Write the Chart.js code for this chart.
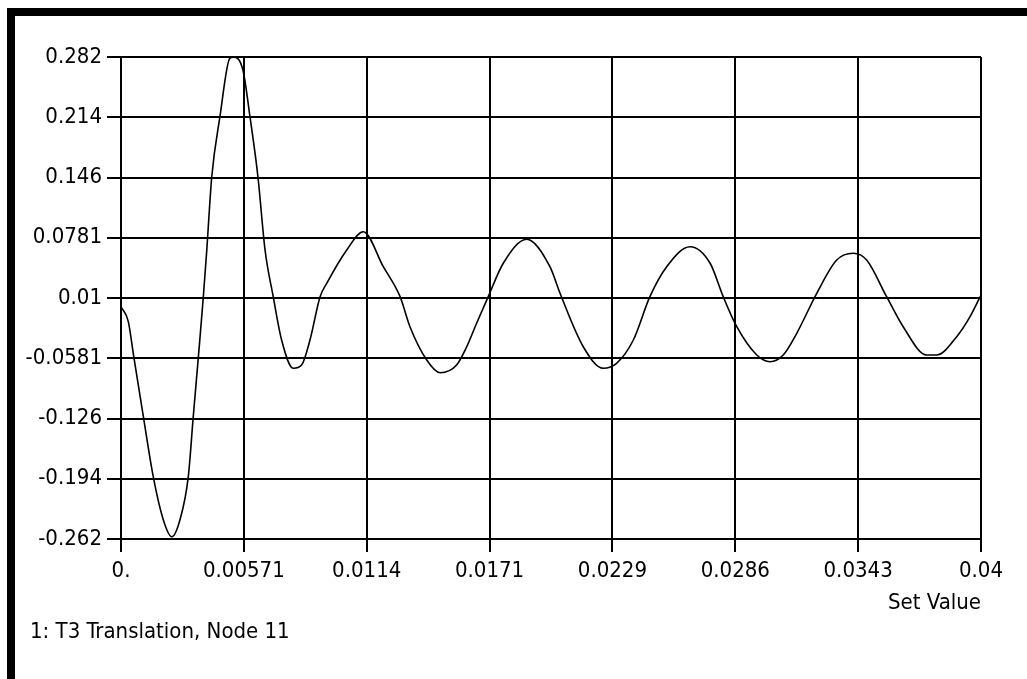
<!DOCTYPE html>
<html>
<head>
<meta charset="utf-8">
<script src="https://cdn.jsdelivr.net/npm/chart.js@4.4.1/dist/chart.umd.min.js"></script>
<style>
  html, body { margin: 0; padding: 0; background: #fff; width: 1027px; height: 679px; overflow: hidden; }
  #wrap { position: absolute; left: 0; top: 0; width: 1027px; height: 679px; }
  #bl { position: absolute; left: 7px; top: 8px; width: 8px; height: 671px; background: #000; }
  #bt { position: absolute; left: 7px; top: 8px; width: 1020px; height: 8px; background: #000; }
  canvas { position: absolute; left: 0; top: 0; }
  #cap { position: absolute; left: 30px; top: 620px; font: 22px/22px 'DejaVu Sans Condensed', 'DejaVu Sans', sans-serif; font-stretch: condensed; color: #000; white-space: nowrap; }
</style>
</head>
<body>
<div id="wrap">
  <canvas id="c" width="1027" height="679"></canvas>
  <div id="bl"></div>
  <div id="bt"></div>
  <div id="cap"></div>
</div>
<script>
// ---- data ----
const seriesLabel = "1: T3 Translation, Node 11";
const xAxisTitle = "Set Value";
const xTickLabels = ["0.", "0.00571", "0.0114", "0.0171", "0.0229", "0.0286", "0.0343", "0.04"];
const yTickLabels = ["-0.262", "-0.194", "-0.126", "-0.0581", "0.01", "0.0781", "0.146", "0.214", "0.282"];
const xMin = 0, xMax = 0.04;
const yMin = -0.262, yMax = 0.282;

const xs = [0, 0.00034, 0.00057, 0.00104, 0.00150, 0.00197, 0.00236, 0.00274, 0.00313, 0.00336,
  0.00360, 0.00383, 0.00399, 0.00422, 0.00460, 0.00507, 0.00522, 0.00567, 0.00600, 0.00637,
  0.00670, 0.00708, 0.00747, 0.00801, 0.00840, 0.00879, 0.00926, 0.00957, 0.01050, 0.01127,
  0.01220, 0.01298, 0.01344, 0.01422, 0.01484, 0.01561, 0.01608, 0.01654, 0.01708, 0.01778,
  0.01887, 0.01995, 0.02042, 0.02150, 0.02243, 0.02305, 0.02383, 0.02460, 0.02538, 0.02647,
  0.02740, 0.02801, 0.02864, 0.02957, 0.03019, 0.03080, 0.03143, 0.03236, 0.03329, 0.03406,
  0.03468, 0.03561, 0.03638, 0.03747, 0.03794, 0.03887, 0.03949, 0.04];
const ys = [0, -0.0167, -0.0524, -0.124, -0.1917, -0.2405, -0.2594, -0.2405, -0.1917, -0.124,
  -0.0562, 0.0115, 0.0642, 0.1466, 0.2143, 0.2809, 0.2817, 0.2673, 0.2143, 0.1466,
  0.0642, 0.0115, -0.0374, -0.0693, -0.0656, -0.0374, 0.0115, 0.0266, 0.0642, 0.0848,
  0.0453, 0.0115, -0.0224, -0.0600, -0.0743, -0.0656, -0.0450, -0.0185, 0.0115, 0.0492,
  0.0763, 0.0453, 0.0153, -0.0450, -0.0693, -0.0637, -0.0374, 0.0115, 0.0453, 0.0679,
  0.0492, 0.0115, -0.0224, -0.0543, -0.0619, -0.0543, -0.0298, 0.0153, 0.0529, 0.0605,
  0.0529, 0.0115, -0.0224, -0.0543, -0.0543, -0.0337, -0.0111, 0.0134];

// ---- chart ----
const FONT = "'DejaVu Sans Condensed', 'DejaVu Sans', sans-serif";
const FS = 22;
const points = xs.map((x, i) => ({ x: x, y: ys[i] }));
document.getElementById('cap').textContent = seriesLabel;

function evenTicks(min, max, n) {
  const out = [];
  for (let i = 0; i < n; i++) out.push({ value: min + i * (max - min) / (n - 1) });
  return out;
}

new Chart(document.getElementById('c'), {
  type: 'line',
  data: {
    datasets: [{
      label: seriesLabel,
      data: points,
      borderColor: '#000',
      borderWidth: 1.6,
      pointRadius: 0,
      cubicInterpolationMode: 'monotone',
      fill: false
    }]
  },
  options: {
    responsive: false,
    animation: false,
    devicePixelRatio: 1,
    layout: { padding: { left: 15, top: 57, right: 46, bottom: 62 } },
    plugins: {
      legend: { display: false },
      tooltip: { enabled: false },
      title: { display: false }
    },
    scales: {
      x: {
        type: 'linear',
        min: xMin, max: xMax,
        afterBuildTicks: s => { s.ticks = evenTicks(xMin, xMax, xTickLabels.length); },
        afterFit: s => { s.height = 78; },
        ticks: {
          autoSkip: false,
          maxRotation: 0,
          color: '#000',
          padding: 6,
          font: { family: FONT, size: FS },
          callback: (v, i) => xTickLabels[i]
        },
        grid: { color: '#000', lineWidth: 2, tickLength: 13, drawOnChartArea: true },
        border: { color: '#000', width: 2 },
        title: {
          display: true,
          text: xAxisTitle,
          align: 'end',
          color: '#000',
          font: { family: FONT, size: FS },
          padding: { top: 0, bottom: 1 }
        }
      },
      y: {
        type: 'linear',
        min: yMin, max: yMax,
        afterBuildTicks: s => { s.ticks = evenTicks(yMin, yMax, yTickLabels.length); },
        afterFit: s => { s.width = 106; },
        ticks: {
          autoSkip: false,
          color: '#000',
          padding: 5,
          font: { family: FONT, size: FS },
          callback: (v, i) => yTickLabels[i]
        },
        grid: { color: '#000', lineWidth: 2, tickLength: 14 },
        border: { color: '#000', width: 2 }
      }
    }
  }
});
</script>
</body>
</html>
